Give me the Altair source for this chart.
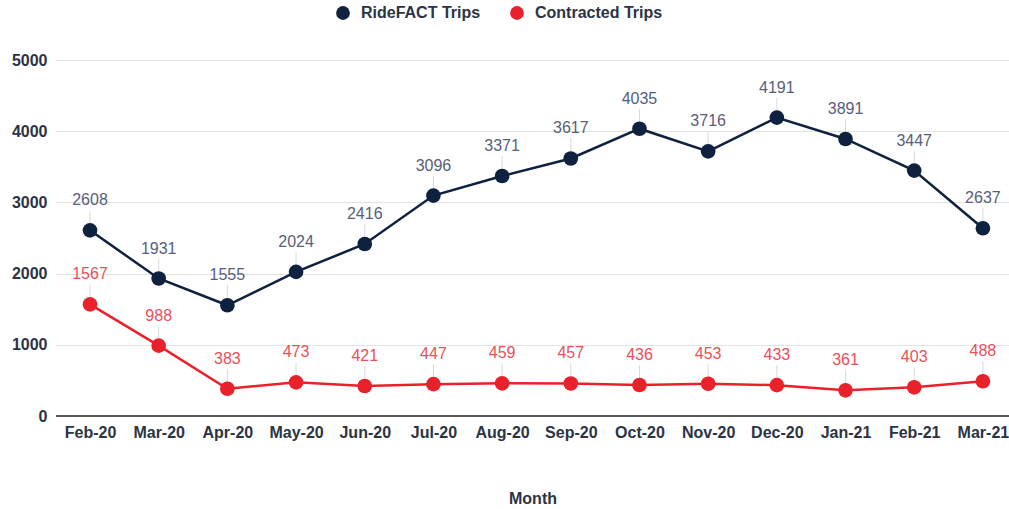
import altair as alt
import pandas as pd

months = ["Feb-20", "Mar-20", "Apr-20", "May-20", "Jun-20", "Jul-20", "Aug-20",
          "Sep-20", "Oct-20", "Nov-20", "Dec-20", "Jan-21", "Feb-21", "Mar-21"]
ridefact = [2608, 1931, 1555, 2024, 2416, 3096, 3371, 3617, 4035, 3716, 4191, 3891, 3447, 2637]
contracted = [1567, 988, 383, 473, 421, 447, 459, 457, 436, 453, 433, 361, 403, 488]
series = ["RideFACT Trips", "Contracted Trips"]
colors = ["#0e213f", "#e8212b"]
label_colors = ["#56607a", "#ea4f59"]

rows = []
for i, m in enumerate(months):
    rows.append({"Idx": i, "Month": m, "Series": series[0], "Value": ridefact[i]})
    rows.append({"Idx": i, "Month": m, "Series": series[1], "Value": contracted[i]})
df = pd.DataFrame(rows)

FONT = "Liberation Sans"
TXT = "#2b3445"
month_js = "[" + ",".join("'%s'" % m for m in months) + "]"

x_enc = alt.X("Idx:Q", title="Month",
              scale=alt.Scale(domain=[-0.495, 13.38], nice=False, zero=False),
              axis=alt.Axis(values=list(range(len(months))),
                            labelExpr=month_js + "[datum.value]",
                            labelAngle=0, labelFont=FONT, labelFontWeight="bold",
                            labelFontSize=16, labelColor=TXT, labelPadding=8,
                            ticks=False, domain=False, grid=False,
                            titleFont=FONT, titleFontSize=16, titleFontWeight="bold",
                            titleColor=TXT, titlePadding=50))
y_enc = alt.Y("Value:Q", title=None,
              scale=alt.Scale(domain=[0, 5000]),
              axis=alt.Axis(values=[0, 1000, 2000, 3000, 4000, 5000], format="d",
                            labelFont=FONT,
                            labelFontWeight="bold", labelFontSize=16, labelColor=TXT,
                            labelPadding=9, ticks=False, domain=False,
                            gridColor="#e3e3e3", gridWidth=1.2))

base = alt.Chart(df).encode(x=x_enc, y=y_enc)

zero_line = alt.Chart(df).mark_rule(color="#5a5a5a", strokeWidth=1.6).encode(
    y=alt.datum(0))

leaders = base.mark_rule(color="#d9d9d9", strokeWidth=1, y2Offset=-20).encode(
    y2="Value:Q")

legend = alt.Legend(title=None, orient="none", direction="horizontal",
                    legendX=279, legendY=-55, labelFont=FONT,
                    labelFontSize=16, labelFontWeight="bold",
                    labelColor=TXT, symbolType="circle",
                    symbolSize=190, columnPadding=28, labelOffset=10,
                    symbolStrokeWidth=0)
color_scale = alt.Scale(domain=series, range=colors)
lines = base.mark_line(strokeWidth=2.5).encode(
    color=alt.Color("Series:N", scale=color_scale, sort=series, legend=legend),
    detail="Series:N")
points = base.mark_circle(size=215, opacity=1).encode(
    color=alt.Color("Series:N", scale=color_scale, sort=series, legend=legend))

texts = []
for s, c in zip(series, label_colors):
    texts.append(
        base.transform_filter(alt.datum.Series == s)
        .mark_text(font=FONT, fontSize=16, color=c, dy=-30)
        .encode(text="Value:Q")
    )

chart = alt.layer(leaders, zero_line, lines, points, *texts).properties(
    width=953, height=356,
    background="white",
    autosize=alt.AutoSizeParams(type="none"),
    padding={"left": 56, "top": 60, "right": 0, "bottom": 90},
).configure_view(stroke="transparent", strokeWidth=0).configure_axis(
    domain=False, ticks=False)

chart.save("out.html", embed_options={"renderer": "svg", "actions": False})
